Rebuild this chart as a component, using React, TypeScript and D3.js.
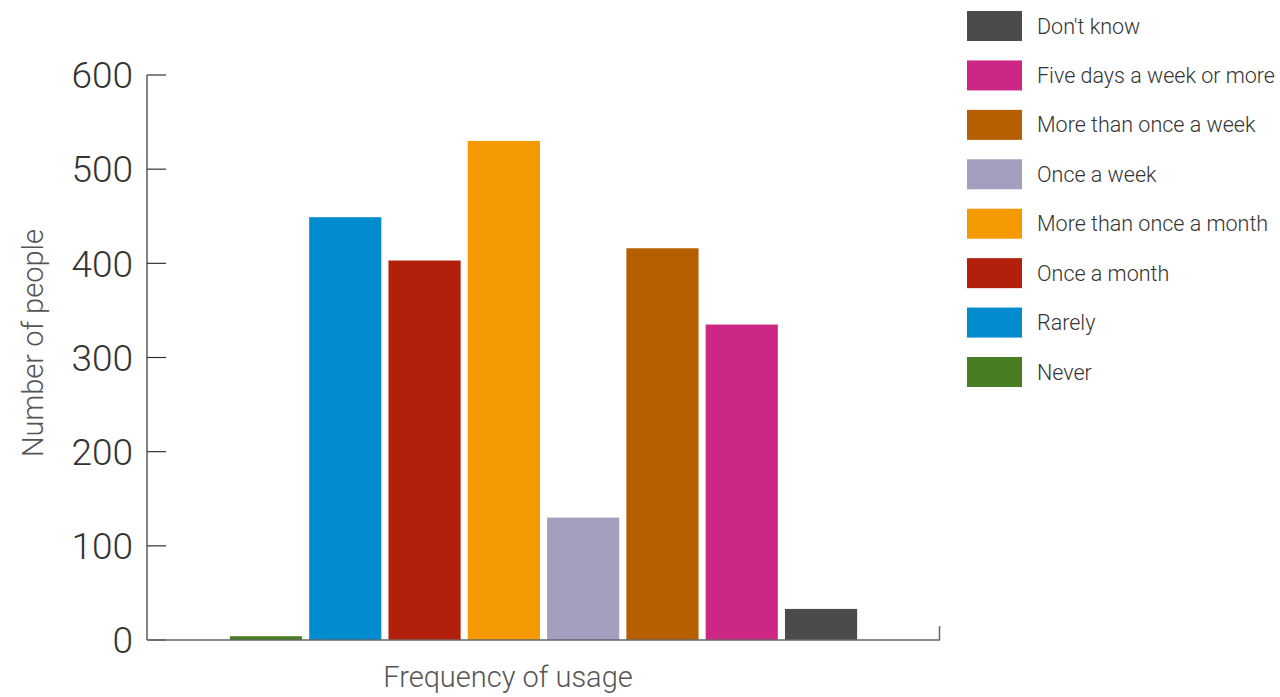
import React from "react";
import * as d3 from "d3";

const categories = [
  "Never",
  "Rarely",
  "Once a month",
  "More than once a month",
  "Once a week",
  "More than once a week",
  "Five days a week or more",
  "Don't know",
];
const values = [4, 449, 403, 530, 130, 416, 335, 33];
const colors = ["#497d22", "#008ccf", "#b2200c", "#f59900", "#a3a0bf", "#b55f00", "#cd2785", "#4b4b4b"];
const legendOrder = [
  "Don't know",
  "Five days a week or more",
  "More than once a week",
  "Once a week",
  "More than once a month",
  "Once a month",
  "Rarely",
  "Never",
];
const yTicks = [0, 100, 200, 300, 400, 500, 600];

const W = 1280;
const H = 697;
const FONT = "Roboto, 'Liberation Sans', sans-serif";

export default function App() {
  const x0 = 147, x1 = 940, y0 = 640, y1 = 75;
  const y = d3.scaleLinear().domain([0, 600]).range([y0, y1]);
  const x = d3.scaleBand<string>().domain(categories).range([x0, x1]).paddingInner(0.09).paddingOuter(1.045);
  const color = d3.scaleOrdinal<string, string>().domain(categories).range(colors);
  const legendY = d3.scalePoint<string>().domain(legendOrder).range([26, 372]);

  return (
    <svg width={W} height={H} style={{ position: "absolute", left: 0, top: 0 }} fontFamily={FONT}>
      <rect width={W} height={H} fill="#fff" />
      {categories.map((c, i) => (
        <rect key={c} x={x(c)} width={x.bandwidth()} y={y(values[i])} height={y0 - y(values[i])} fill={color(c)} />
      ))}
      {/* y axis */}
      <line x1={x0} x2={x0} y1={y1} y2={y0} stroke="#333" strokeWidth={1.2} />
      {yTicks.map((t) => (
        <g key={t}>
          <line x1={x0} x2={x0 + 19} y1={y(t)} y2={y(t)} stroke="#333" strokeWidth={1.2} />
          <text x={133} y={y(t)} dy="0.36em" textAnchor="end" fontSize={37} fontWeight={300} fill="#333">
            {t}
          </text>
        </g>
      ))}
      {/* x axis */}
      <line x1={x0} x2={x1} y1={y0} y2={y0} stroke="#666" strokeWidth={1.5} />
      <line x1={x1 - 0.5} x2={x1 - 0.5} y1={y0} y2={y0 - 14} stroke="#666" strokeWidth={1.5} />
      <text x={508} y={677} dy="0.35em" textAnchor="middle" fontSize={29} fontWeight={300} fill="#555">
        Frequency of usage
      </text>
      <text transform={`translate(33,343) rotate(-90)`} dy="0.35em" textAnchor="middle" fontSize={29} fontWeight={300} fill="#555">
        Number of people
      </text>
      {/* legend */}
      {legendOrder.map((c) => (
        <g key={c} transform={`translate(967,${legendY(c)})`}>
          <rect x={0} y={-15} width={55} height={30} fill={color(c)} />
          <text x={70} y={0} dy="0.35em" fontSize={21.5} fontWeight={300} fill="#333">
            {c}
          </text>
        </g>
      ))}
    </svg>
  );
}
